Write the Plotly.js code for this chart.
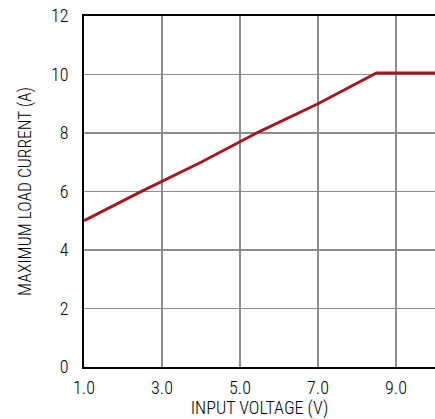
<!DOCTYPE html>
<html>
<head>
<meta charset="utf-8">
<script src="https://cdn.plot.ly/plotly-3.0.1.min.js"></script>
<style>html,body{margin:0;padding:0;background:#fff;}#chart{width:435px;height:419px;}</style>
</head>
<body>
<div id="chart"></div>
<script>
const inputVoltage = [1.0, 2.5, 4.0, 5.5, 7.0, 8.5, 10.0];
const maxLoadCurrent = [5.0, 6.02, 7.0, 8.05, 9.0, 10.05, 10.05];
const xTickVals = [1, 3, 5, 7, 9];
const xTickText = ['1.0', '3.0', '5.0', '7.0', '9.0'];
const yTickVals = [0, 2, 4, 6, 8, 10, 12];

const FONT = '"Roboto Condensed", "Liberation Sans Narrow", "Arial Narrow", sans-serif';

Plotly.newPlot('chart', [{
  x: inputVoltage,
  y: maxLoadCurrent,
  type: 'scatter',
  mode: 'lines',
  line: {color: '#a3191e', width: 3},
  hoverinfo: 'skip'
}], {
  width: 435, height: 419,
  margin: {l: 84, r: 0, t: 16, b: 52},
  paper_bgcolor: '#fff', plot_bgcolor: '#fff',
  showlegend: false,
  font: {family: FONT, size: 18, color: '#000', weight: 300},
  xaxis: {
    range: [1, 10],
    tickvals: xTickVals, ticktext: xTickText,
    ticks: '', ticklabelstandoff: 3,
    showgrid: true, gridcolor: '#8c8c8c', gridwidth: 1.5,
    showline: true, linecolor: '#000', linewidth: 2, mirror: true,
    zeroline: false,
    title: {text: 'INPUT VOLTAGE (V)', font: {family: FONT, size: 18, weight: 300}, standoff: 8}
  },
  yaxis: {
    range: [0, 12],
    tickvals: yTickVals,
    ticks: '', ticklabelstandoff: 10,
    showgrid: true, gridcolor: '#8c8c8c', gridwidth: 1.5,
    showline: true, linecolor: '#000', linewidth: 2,
    zeroline: false,
    title: {text: 'MAXIMUM LOAD CURRENT (A)', font: {family: FONT, size: 17.5, weight: 300}, standoff: 15}
  }
}, {staticPlot: true, displayModeBar: false});
</script>
</body>
</html>
